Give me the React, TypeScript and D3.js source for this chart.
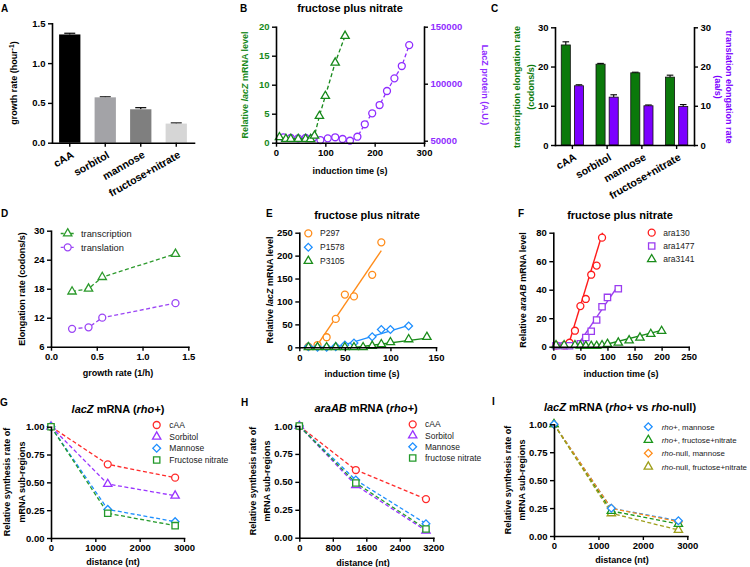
import React, { useEffect, useRef } from "react";
import * as d3 from "d3";

const FONT = "'Liberation Sans', Arial, Helvetica, sans-serif";

// ---------------- DATA ----------------
// Panel A
const conditions = ["cAA", "sorbitol", "mannose", "fructose+nitrate"];
const growthRate = [1.36, 0.57, 0.42, 0.24];
const growthRateErr = [0.015, 0.006, 0.02, 0.008];

// Panel B
const bMrnaTime = [7, 20, 30, 45, 60, 70, 78, 88, 100, 120, 140];
const bMrnaLevel = [0.93, 0.64, 0.64, 0.64, 0.64, 0.6, 1.2, 4.6, 8.05, 13.8, 18.4];
const bProteinTime = [15, 30, 45, 60, 75, 90, 105, 120, 135, 150, 165, 180, 195, 210, 225, 240, 255, 270];
const bProteinLevel = [53000, 52400, 52100, 52400, 52400, 50600, 52100, 53000, 51500, 50000, 53500, 64400, 74000, 81300, 93600, 104700, 115500, 133900];

// Panel C
const txRate = [25.5, 20.6, 18.4, 17.3];
const txErr = [0.8, 0.2, 0.15, 0.5];
const tlRate = [15.1, 12.2, 10.0, 9.8];
const tlErr = [0.25, 0.6, 0.2, 0.5];

// Panel D
const dGrowth = [0.23, 0.41, 0.56, 1.36];
const dTranscription = [17.4, 18.0, 20.4, 25.2];
const dTranslation = [9.7, 10.0, 12.0, 15.0];

// Panel E
const eP297Time = [10, 20, 30, 40, 50, 60, 80, 90];
const eP297 = [1.5, 5, 22, 62, 115, 111, 158, 229];
const eP297FitTime = [18, 90];
const eP297FitLevel = [0, 211];
const eP1578Time = [10, 20, 30, 40, 50, 60, 80, 90, 100, 120];
const eP1578 = [1.5, 0, 0, 1.5, 5, 9.5, 23, 39, 39, 46.5];
const eP1578FitTime = [40, 120];
const eP1578FitLevel = [0, 48];
const eP3105Time = [10, 20, 30, 40, 50, 60, 70, 80, 90, 100, 120, 140];
const eP3105 = [0, 0, 0, 0, 0, 0, 0, 2.9, 6.5, 10.9, 17.4, 22.5];
const eP3105FitTime = [63, 140];
const eP3105FitLevel = [0, 20];

// Panel F
const fAra130Time = [5, 20, 30, 40, 50, 60, 70, 80, 90];
const fAra130 = [1, 1, 2.8, 11.2, 28.5, 33.5, 50.5, 56.9, 76.5];
const fAra130FitTime = [27, 91];
const fAra130FitLevel = [0, 80];
const fAra1477Time = [5, 20, 30, 50, 60, 70, 80, 90, 100, 120];
const fAra1477 = [0.7, 0.7, 0.7, 2, 6.5, 10.8, 18.7, 28, 34.6, 40.7];
const fAra1477FitTime = [43, 120];
const fAra1477FitLevel = [0, 43];
const fAra3141Time = [5, 20, 40, 50, 60, 70, 80, 90, 100, 120, 140, 160, 180, 200];
const fAra3141 = [1, 1, 1, 0.7, 0.5, 0.5, 0.5, 1, 1.9, 2.8, 4.4, 6.3, 8.9, 11];
const fAra3141FitTime = [80, 200];
const fAra3141FitLevel = [0, 11.5];

// Panel G
const gDistance = [0, 1280, 2800];
const gCAA = [1, 0.662, 0.542];
const gSorbitol = [1, 0.485, 0.38];
const gMannose = [1, 0.257, 0.147];
const gFructose = [1, 0.222, 0.111];

// Panel H
const hDistance = [0, 1350, 3025];
const hCAA = [1, 0.606, 0.346];
const hSorbitol = [1, 0.47, 0.063];
const hMannose = [1, 0.516, 0.125];
const hFructose = [1, 0.49, 0.078];

// Panel I
const iDistance = [0, 1290, 2800];
const iRhoMannose = [1, 0.248, 0.137];
const iRhoFructose = [1, 0.224, 0.107];
const iNullMannose = [1, 0.248, 0.128];
const iNullFructose = [1, 0.203, 0.054];

// ---------------- HELPERS ----------------
function Axis({ orient, scale, x = 0, y = 0, values, format, color = "#000", rotateLabels = false, size = 9.5 }: any) {
  const ref = useRef<SVGGElement>(null);
  useEffect(() => {
    const gen: any = orient === "left" ? d3.axisLeft(scale) : orient === "right" ? d3.axisRight(scale) : d3.axisBottom(scale);
    gen.tickSizeOuter(0).tickSizeInner(4).tickPadding(2.5);
    if (values) gen.tickValues(values);
    if (format) gen.tickFormat(format);
    const g = d3.select(ref.current as SVGGElement);
    g.call(gen);
    g.attr("font-family", FONT).attr("font-size", size).attr("font-weight", "bold");
    g.select(".domain").attr("stroke", "#000").attr("stroke-width", 1.6).attr("stroke-linecap", "square");
    g.selectAll(".tick line").attr("stroke", "#000").attr("stroke-width", 1.4);
    g.selectAll(".tick text").attr("fill", color);
    if (rotateLabels) {
      g.selectAll(".tick text")
        .attr("text-anchor", "end")
        .attr("x", 0)
        .attr("y", 0)
        .attr("dy", "0.35em")
        .attr("font-size", 10.6)
        .attr("transform", "translate(3,11) rotate(-30)");
    }
  }, []);
  return <g ref={ref} transform={`translate(${x},${y})`} />;
}

const symbolSpec: any = {
  circle: [d3.symbolCircle, 38],
  triangle: [d3.symbolTriangle, 30],
  square: [d3.symbolSquare, 40],
  diamond: [d3.symbolSquare, 30],
};

function Marker({ shape, x, y, color }: any) {
  const d = d3.symbol().type(symbolSpec[shape][0]).size(symbolSpec[shape][1])() as string;
  return (
    <path
      d={d}
      transform={`translate(${x},${y})${shape === "diamond" ? " rotate(45)" : ""}`}
      fill="#fff"
      stroke={color}
      strokeWidth={1.3}
    />
  );
}

function SeriesLines({ s, x, y }: any) {
  const line = d3.line();
  const pts: [number, number][] = s.xs.map((v: number, i: number) => [x(v), y(s.ys[i])]);
  return (
    <g>
      {s.connect && (
        <path d={line(pts) as string} fill="none" stroke={s.color} strokeWidth={1.3} strokeDasharray={s.dashed ? "4,2.5" : undefined} />
      )}
      {s.fitX && (
        <path
          d={line(s.fitX.map((v: number, i: number) => [x(v), y(s.fitY[i])]) as [number, number][]) as string}
          fill="none"
          stroke={s.color}
          strokeWidth={1.4}
        />
      )}
    </g>
  );
}

function SeriesMarkers({ s, x, y }: any) {
  return (
    <g>
      {s.xs.map((v: number, i: number) => (
        <Marker key={i} shape={s.shape} x={x(v)} y={y(s.ys[i])} color={s.color} />
      ))}
    </g>
  );
}

function Legend({ series, mx, tx, rows, withLine = false, size = 8.5 }: any) {
  return (
    <g>
      {series.map((s: any, i: number) => (
        <g key={i}>
          {withLine && (
            <line x1={mx - 7} x2={mx + 7} y1={rows[i]} y2={rows[i]} stroke={s.color} strokeWidth={1.3} strokeDasharray="3,2" />
          )}
          <Marker shape={s.shape} x={mx} y={rows[i]} color={s.color} />
          <text x={tx} y={rows[i] + size * 0.36} fontSize={size} fill="#1a1a1a" fontFamily={FONT}>
            {s.name}
          </text>
        </g>
      ))}
    </g>
  );
}

function PanelLetter({ x, y, t }: any) {
  return (
    <text x={x} y={y} fontSize={10} fontWeight="bold" fontFamily={FONT}>
      {t}
    </text>
  );
}

function RotText({ x, y, rot = -90, children, fill = "#000", size = 9, weight = "bold" }: any) {
  return (
    <text transform={`translate(${x},${y}) rotate(${rot})`} textAnchor="middle" fontSize={size} fontWeight={weight} fill={fill} fontFamily={FONT}>
      {children}
    </text>
  );
}

function Title({ x, y, children, size = 11 }: any) {
  return (
    <text x={x} y={y} textAnchor="middle" fontSize={size} fontWeight="bold" fontFamily={FONT}>
      {children}
    </text>
  );
}

// ---------------- PANELS ----------------
function PanelA() {
  const x = d3.scaleBand().domain(conditions).range([52, 194]).paddingInner(0.4).paddingOuter(0.2);
  const y = d3.scaleLinear().domain([0, 1.5]).range([142.7, 23.3]);
  const colors = ["#000000", "#a3a3a7", "#7f7f7f", "#d6d6d6"];
  const bw = x.bandwidth();
  return (
    <g>
      <PanelLetter x={1} y={12} t="A" />
      {conditions.map((c, i) => {
        const bx = x(c) as number;
        const cx = bx + bw / 2;
        const top = y(growthRate[i] + growthRateErr[i]);
        return (
          <g key={c}>
            <line x1={cx} x2={cx} y1={y(growthRate[i])} y2={top} stroke="#000" strokeWidth={1.2} />
            <line x1={cx - 5.5} x2={cx + 5.5} y1={top} y2={top} stroke="#000" strokeWidth={1.2} />
            <rect x={bx} y={y(growthRate[i])} width={bw} height={y(0) - y(growthRate[i])} fill={colors[i]} />
          </g>
        );
      })}
      <Axis orient="left" scale={y} x={52} values={[0, 0.5, 1, 1.5]} format={d3.format(".1f")} />
      <Axis orient="bottom" scale={x} y={142.7} rotateLabels />
      <RotText x={17} y={83}>
        growth rate (hour
        <tspan dy={-3.5} fontSize={6.5}>
          -1
        </tspan>
        <tspan dy={3.5}>)</tspan>
      </RotText>
    </g>
  );
}

function PanelB() {
  const x = d3.scaleLinear().domain([0, 300]).range([276, 424]);
  const yl = d3.scaleLinear().domain([0, 20]).range([142.7, 26.7]);
  const yr = d3.scaleLinear().domain([48250, 150000]).range([142.7, 26.7]);
  const green = "#16891a";
  const purple = "#8f2cff";
  const sM = { xs: bMrnaTime, ys: bMrnaLevel, shape: "triangle", color: green, connect: true, dashed: true };
  const sP = { xs: bProteinTime, ys: bProteinLevel, shape: "circle", color: purple, connect: true, dashed: true };
  return (
    <g>
      <PanelLetter x={240} y={12} t="B" />
      <Title x={350} y={12}>fructose plus nitrate</Title>
      <SeriesLines s={sP} x={x} y={yr} />
      <SeriesMarkers s={sP} x={x} y={yr} />
      <SeriesLines s={sM} x={x} y={yl} />
      <SeriesMarkers s={sM} x={x} y={yl} />
      <Axis orient="left" scale={yl} x={276} values={[0, 5, 10, 15, 20]} color={green} />
      <Axis orient="right" scale={yr} x={424} values={[50000, 100000, 150000]} format={d3.format("d")} color={purple} />
      <Axis orient="bottom" scale={x} y={142.7} values={[0, 100, 200, 300]} />
      <RotText x={248} y={85} fill={green}>
        Relative <tspan fontStyle="italic">lacZ</tspan> mRNA level
      </RotText>
      <RotText x={482} y={85} rot={90} fill={purple}>
        LacZ protein (A.U.)
      </RotText>
      <text x={350} y={174} textAnchor="middle" fontSize={9} fontWeight="bold" fontFamily={FONT}>
        induction time (s)
      </text>
    </g>
  );
}

function PanelC() {
  const x0 = d3.scaleBand().domain(conditions).range([555, 694]).paddingInner(0.36).paddingOuter(0.18);
  const x1 = d3.scaleBand().domain(["tx", "tl"]).range([0, x0.bandwidth()]).paddingInner(0.31);
  const y = d3.scaleLinear().domain([0, 30]).range([145, 27.3]);
  const green = "#0b790b";
  const purple = "#7c00ff";
  const groups = [
    { key: "tx", vals: txRate, errs: txErr, color: green },
    { key: "tl", vals: tlRate, errs: tlErr, color: purple },
  ];
  const bw = x1.bandwidth();
  return (
    <g>
      <PanelLetter x={491} y={12} t="C" />
      {conditions.map((c, i) => (
        <g key={c}>
          {groups.map((g) => {
            const bx = (x0(c) as number) + (x1(g.key) as number);
            const cx = bx + bw / 2;
            const top = y(g.vals[i] + g.errs[i]);
            return (
              <g key={g.key}>
                <line x1={cx} x2={cx} y1={y(g.vals[i])} y2={top} stroke="#000" strokeWidth={1.1} />
                <line x1={cx - 3.3} x2={cx + 3.3} y1={top} y2={top} stroke="#000" strokeWidth={1.1} />
                <rect x={bx} y={y(g.vals[i])} width={bw} height={y(0) - y(g.vals[i])} fill={g.color} stroke="#111" strokeWidth={0.8} />
              </g>
            );
          })}
        </g>
      ))}
      <Axis orient="left" scale={y} x={555} values={[0, 10, 20, 30]} />
      <Axis orient="right" scale={y} x={694} values={[0, 10, 20, 30]} />
      <Axis orient="bottom" scale={x0} y={145} rotateLabels />
      <RotText x={520} y={87} fill={green}>
        transcription elongation rate
      </RotText>
      <RotText x={533.5} y={87} fill={green}>
        (codons/s)
      </RotText>
      <RotText x={726} y={87} rot={90} fill={purple}>
        translation elongation rate
      </RotText>
      <RotText x={714.5} y={87} rot={90} fill={purple}>
        (aa/s)
      </RotText>
    </g>
  );
}

function PanelD() {
  const x = d3.scaleLinear().domain([0, 1.5]).range([51, 188.3]);
  const y = d3.scaleLinear().domain([6, 30]).range([346.7, 230.7]);
  const series = [
    { name: "transcription", xs: dGrowth, ys: dTranscription, shape: "triangle", color: "#2c9a2c", connect: true, dashed: true },
    { name: "translation", xs: dGrowth, ys: dTranslation, shape: "circle", color: "#9b45f5", connect: true, dashed: true },
  ];
  return (
    <g>
      <PanelLetter x={1} y={217} t="D" />
      {series.map((s, i) => (
        <SeriesLines key={i} s={s} x={x} y={y} />
      ))}
      {series.map((s, i) => (
        <SeriesMarkers key={i} s={s} x={x} y={y} />
      ))}
      <Axis orient="left" scale={y} x={51} values={[6, 12, 18, 24, 30]} />
      <Axis orient="bottom" scale={x} y={346.7} values={[0, 0.5, 1, 1.5]} format={d3.format(".1f")} />
      <Legend series={series} mx={67.7} tx={81} rows={[233.5, 247.3]} withLine size={9.3} />
      <RotText x={25} y={289}>Elongation rate (codons/s)</RotText>
      <text x={118} y={376} textAnchor="middle" fontSize={9} fontWeight="bold" fontFamily={FONT}>
        growth rate (1/h)
      </text>
    </g>
  );
}

function PanelE() {
  const x = d3.scaleLinear().domain([0, 150]).range([299.3, 436]);
  const y = d3.scaleLinear().domain([0, 250]).range([347.3, 232.7]);
  const series = [
    { name: "P297", xs: eP297Time, ys: eP297, shape: "circle", color: "#ff8c1a", fitX: eP297FitTime, fitY: eP297FitLevel },
    { name: "P1578", xs: eP1578Time, ys: eP1578, shape: "diamond", color: "#1e8fff", fitX: eP1578FitTime, fitY: eP1578FitLevel },
    { name: "P3105", xs: eP3105Time, ys: eP3105, shape: "triangle", color: "#1a8c1a", fitX: eP3105FitTime, fitY: eP3105FitLevel },
  ];
  return (
    <g>
      <PanelLetter x={266} y={217} t="E" />
      <Title x={367} y={219}>fructose plus nitrate</Title>
      {series.map((s, i) => (
        <SeriesLines key={i} s={s} x={x} y={y} />
      ))}
      {series.map((s, i) => (
        <SeriesMarkers key={i} s={s} x={x} y={y} />
      ))}
      <Axis orient="left" scale={y} x={299.3} values={[0, 50, 100, 150, 200, 250]} />
      <Axis orient="bottom" scale={x} y={347.3} values={[0, 50, 100, 150]} />
      <Legend series={series} mx={308.3} tx={320} rows={[233.3, 247.3, 261]} />
      <RotText x={272.7} y={290}>
        Relative <tspan fontStyle="italic">lacZ</tspan> mRNA level
      </RotText>
      <text x={362} y={376.5} textAnchor="middle" fontSize={9} fontWeight="bold" fontFamily={FONT}>
        induction time (s)
      </text>
    </g>
  );
}

function PanelF() {
  const x = d3.scaleLinear().domain([0, 250]).range([553.3, 688.7]);
  const y = d3.scaleLinear().domain([0, 80]).range([346.7, 232.7]);
  const series = [
    { name: "ara130", xs: fAra130Time, ys: fAra130, shape: "circle", color: "#ff1a1a", fitX: fAra130FitTime, fitY: fAra130FitLevel },
    { name: "ara1477", xs: fAra1477Time, ys: fAra1477, shape: "square", color: "#9a3cf0", fitX: fAra1477FitTime, fitY: fAra1477FitLevel },
    { name: "ara3141", xs: fAra3141Time, ys: fAra3141, shape: "triangle", color: "#1a8c1a", fitX: fAra3141FitTime, fitY: fAra3141FitLevel },
  ];
  return (
    <g>
      <PanelLetter x={518} y={217} t="F" />
      <Title x={620} y={219}>fructose plus nitrate</Title>
      {series.map((s, i) => (
        <SeriesLines key={i} s={s} x={x} y={y} />
      ))}
      {series.map((s, i) => (
        <SeriesMarkers key={i} s={s} x={x} y={y} />
      ))}
      <Axis orient="left" scale={y} x={553.3} values={[0, 20, 40, 60, 80]} />
      <Axis orient="bottom" scale={x} y={346.7} values={[0, 50, 100, 150, 200, 250]} />
      <Legend series={series} mx={651.7} tx={663.3} rows={[232.7, 246, 259.3]} />
      <RotText x={526} y={290}>
        Relative <tspan fontStyle="italic">araAB</tspan> mRNA level
      </RotText>
      <text x={621} y={376.5} textAnchor="middle" fontSize={9} fontWeight="bold" fontFamily={FONT}>
        induction time (s)
      </text>
    </g>
  );
}

function DecayPanel({ letter, letterX, letterY, title, titleX, titleY, x, y, xTicks, series, legendMx, legendTx, legendRows, legendSize = 8.5, reverseMarkers = false, ylabX1, ylabX2, ylabY, xlabX, xlabY }: any) {
  const markerOrder = reverseMarkers ? [...series].reverse() : series;
  return (
    <g>
      <PanelLetter x={letterX} y={letterY} t={letter} />
      <Title x={titleX} y={titleY}>{title}</Title>
      {series.map((s: any, i: number) => (
        <SeriesLines key={i} s={s} x={x} y={y} />
      ))}
      {markerOrder.map((s: any, i: number) => (
        <SeriesMarkers key={i} s={s} x={x} y={y} />
      ))}
      <Axis orient="left" scale={y} x={x.range()[0]} values={[0, 0.25, 0.5, 0.75, 1]} format={d3.format(".2f")} />
      <Axis orient="bottom" scale={x} y={y.range()[0]} values={xTicks} format={d3.format("d")} />
      <Legend series={series} mx={legendMx} tx={legendTx} rows={legendRows} size={legendSize} />
      <RotText x={ylabX1} y={ylabY}>Relative synthesis rate of</RotText>
      <RotText x={ylabX2} y={ylabY}>mRNA sub-regions</RotText>
      <text x={xlabX} y={xlabY} textAnchor="middle" fontSize={9} fontWeight="bold" fontFamily={FONT}>
        distance (nt)
      </text>
    </g>
  );
}

function PanelG() {
  const x = d3.scaleLinear().domain([0, 3000]).range([51, 184]);
  const y = d3.scaleLinear().domain([0, 1]).range([538, 426.7]);
  const series = [
    { name: "cAA", xs: gDistance, ys: gCAA, shape: "circle", color: "#ff2a2a", connect: true, dashed: true },
    { name: "Sorbitol", xs: gDistance, ys: gSorbitol, shape: "triangle", color: "#9933ff", connect: true, dashed: true },
    { name: "Mannose", xs: gDistance, ys: gMannose, shape: "diamond", color: "#1e8fff", connect: true, dashed: true },
    { name: "Fructose nitrate", xs: gDistance, ys: gFructose, shape: "square", color: "#22992a", connect: true, dashed: true },
  ];
  return (
    <DecayPanel
      letter="G" letterX={0} letterY={406}
      title={<><tspan fontStyle="italic">lacZ</tspan> mRNA (<tspan fontStyle="italic">rho+</tspan>)</>}
      titleX={118} titleY={413}
      x={x} y={y} xTicks={[0, 1000, 2000, 3000]} series={series}
      legendMx={156.7} legendTx={169.3} legendRows={[425, 436.7, 448.3, 460]}
      ylabX1={10} ylabX2={24.5} ylabY={482} xlabX={113} xlabY={565}
    />
  );
}

function PanelH() {
  const x = d3.scaleLinear().domain([0, 3200]).range([299.3, 433.3]);
  const y = d3.scaleLinear().domain([0, 1]).range([537.7, 426]);
  const series = [
    { name: "cAA", xs: hDistance, ys: hCAA, shape: "circle", color: "#ff2a2a", connect: true, dashed: true },
    { name: "Sorbitol", xs: hDistance, ys: hSorbitol, shape: "triangle", color: "#9933ff", connect: true, dashed: true },
    { name: "Mannose", xs: hDistance, ys: hMannose, shape: "diamond", color: "#1e8fff", connect: true, dashed: true },
    { name: "fructose nitrate", xs: hDistance, ys: hFructose, shape: "square", color: "#22992a", connect: true, dashed: true },
  ];
  return (
    <DecayPanel
      letter="H" letterX={241} letterY={406}
      title={<><tspan fontStyle="italic">araAB</tspan> mRNA (<tspan fontStyle="italic">rho+</tspan>)</>}
      titleX={366} titleY={412}
      x={x} y={y} xTicks={[0, 800, 1600, 2400, 3200]} series={series}
      legendMx={412.7} legendTx={425} legendRows={[424.3, 435.5, 446.7, 458]}
      ylabX1={255.5} ylabX2={270} ylabY={481} xlabX={363} xlabY={566}
    />
  );
}

function PanelI() {
  const x = d3.scaleLinear().domain([0, 3000]).range([554, 687.3]);
  const y = d3.scaleLinear().domain([0, 1]).range([536, 424.3]);
  const series = [
    { name: <><tspan fontStyle="italic">rho+</tspan>, mannose</>, xs: iDistance, ys: iRhoMannose, shape: "diamond", color: "#1e8fff", connect: true, dashed: true },
    { name: <><tspan fontStyle="italic">rho+</tspan>, fructose+nitrate</>, xs: iDistance, ys: iRhoFructose, shape: "triangle", color: "#1a961a", connect: true, dashed: true },
    { name: <><tspan fontStyle="italic">rho</tspan>-null, mannose</>, xs: iDistance, ys: iNullMannose, shape: "diamond", color: "#ff8c1a", connect: true, dashed: true },
    { name: <><tspan fontStyle="italic">rho</tspan>-null, fructose+nitrate</>, xs: iDistance, ys: iNullFructose, shape: "triangle", color: "#9e9e1a", connect: true, dashed: true },
  ];
  return (
    <DecayPanel
      letter="I" letterX={492} letterY={405}
      title={<><tspan fontStyle="italic">lacZ</tspan> mRNA (<tspan fontStyle="italic">rho+</tspan> vs <tspan fontStyle="italic">rho</tspan>-null)</>}
      titleX={620} titleY={410.5}
      x={x} y={y} xTicks={[0, 1000, 2000, 3000]} series={series}
      legendMx={648.3} legendTx={661.7} legendRows={[426.7, 440, 453.3, 466.7]} legendSize={7.9} reverseMarkers
      ylabX1={510.7} ylabX2={525} ylabY={480} xlabX={622} xlabY={563}
    />
  );
}

export default function App() {
  return (
    <svg width={750} height={567} style={{ position: "absolute", left: 0, top: 0, background: "#fff" }} fontFamily={FONT}>
      <rect width={750} height={567} fill="#fff" />
      <PanelA />
      <PanelB />
      <PanelC />
      <PanelD />
      <PanelE />
      <PanelF />
      <PanelG />
      <PanelH />
      <PanelI />
    </svg>
  );
}
